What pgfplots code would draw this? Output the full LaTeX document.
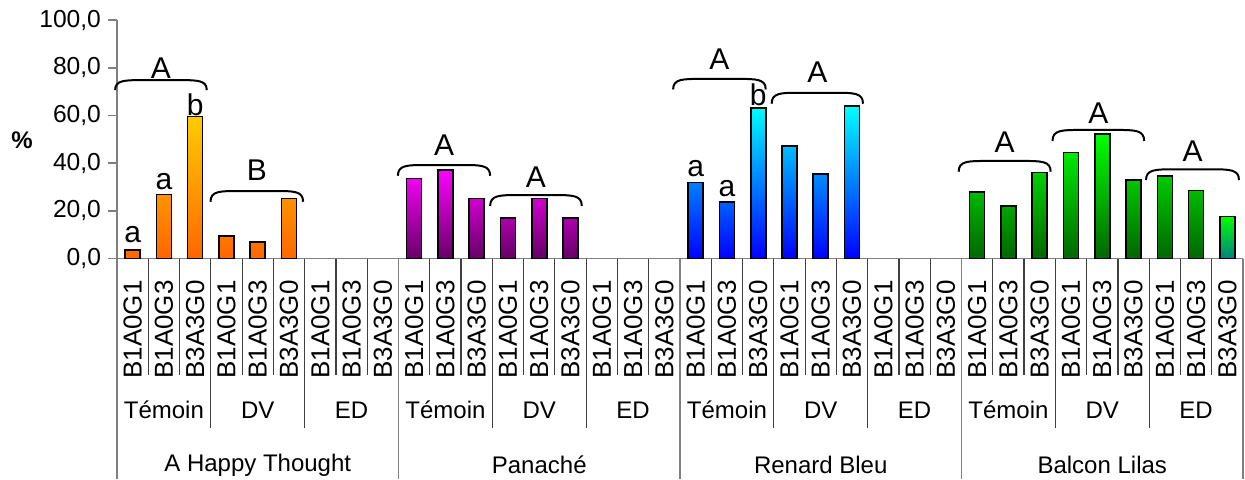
\documentclass[border=0pt]{standalone}
\usepackage{fontspec}
\setmainfont{Liberation Sans}
\usepackage{pgfplots}
\pgfplotsset{compat=1.18}

\definecolor{ahtT}{HTML}{FFCC00}
\definecolor{ahtB}{HTML}{FF6600}
\definecolor{panT}{HTML}{FF00FF}
\definecolor{panB}{HTML}{660066}
\definecolor{rbT}{HTML}{00FFFF}
\definecolor{rbB}{HTML}{0000FF}
\definecolor{blT}{HTML}{00FF00}
\definecolor{blB}{HTML}{006600}
\definecolor{blL}{HTML}{008080}
\definecolor{axgray}{HTML}{808080}

% bracket over a group: xl, xr, y of the ends, y of the top, letter, y of the letter
\newcommand{\brk}[6]{%
  \draw[line width=1pt] (axis cs:#1,#3) .. controls (axis cs:#1,#4) and (axis cs:{#1+0.3},#4) .. (axis cs:{#1+0.9},#4)
    -- (axis cs:{#2-0.9},#4) .. controls (axis cs:{#2-0.3},#4) and (axis cs:#2,#4) .. (axis cs:#2,#3);
  \node[font=\fontsize{15}{18}\selectfont, inner sep=0pt] at (axis cs:{(#1+#2)/2},#6) {#5};}
\newcommand{\lt}[3]{\node[font=\fontsize{15}{18}\selectfont, inner sep=0pt] at (axis cs:#1,#2) {#3};}

\begin{document}
\begin{tikzpicture}
\begin{axis}[
  scale only axis,
  width=563pt, height=119.25pt,
  xmin=-0.5, xmax=35.5,
  ymin=0, ymax=100,
  clip=false,
  axis lines*=left,
  axis line style={axgray, line width=0.8pt},
  xtick=\empty,
  ytick={0,20,...,100},
  tick align=outside,
  major tick length=4.5pt,
  ytick style={axgray, line width=0.8pt},
  yticklabel style={font=\fontsize{12.3}{14}\selectfont},
  /pgf/number format/.cd, fixed, fixed zerofill, precision=1, use comma, assume math mode=true,
]
\coordinate (O) at (axis cs:-0.5,0);

% A Happy Thought
\addplot[ybar, bar width=7.5pt, draw=black, line width=0.8pt, top color=ahtT, bottom color=ahtB]
  coordinates {(0,3.6) (1,26.9) (2,59.6) (3,9.4) (4,6.8) (5,25.2)};
% Panache
\addplot[ybar, bar width=7.5pt, draw=black, line width=0.8pt, top color=panT, bottom color=panB]
  coordinates {(9,33.6) (10,37.1) (11,25.2) (12,16.9) (13,25.2) (14,16.9)};
% Renard Bleu
\addplot[ybar, bar width=7.5pt, draw=black, line width=0.8pt, top color=rbT, bottom color=rbB]
  coordinates {(18,31.9) (19,23.6) (20,63.2) (21,47.2) (22,35.4) (23,63.9)};
% Balcon Lilas
\addplot[ybar, bar width=7.5pt, draw=black, line width=0.8pt, top color=blT, bottom color=blB]
  coordinates {(27,27.8) (28,22.0) (29,36.1) (30,44.5) (31,52.2) (32,32.8) (33,34.6) (34,28.6)};
\addplot[ybar, bar width=7.5pt, draw=black, line width=0.8pt, top color=blT, bottom color=blL]
  coordinates {(35,17.7)};

% letters and brackets
\lt{0}{10.1}{a} \lt{1}{32.2}{a} \lt{2}{64.4}{b}
\lt{18}{37.8}{a} \lt{19}{29.4}{a} \lt{20}{68.6}{b}
\brk{-0.56}{2.37}{70.6}{74.8}{A}{79.9}
\brk{2.49}{5.45}{23.8}{28.3}{B}{37.1}
\brk{8.48}{11.43}{34.7}{39.2}{A}{47.6}
\brk{11.43}{14.36}{22.0}{26.6}{A}{34.3}
\brk{17.28}{20.24}{70.9}{75.3}{A}{83.5}
\brk{20.43}{23.35}{64.9}{69.5}{A}{78.3}
\brk{26.41}{29.35}{36.4}{40.9}{A}{48.6}
\brk{29.41}{32.34}{49.3}{53.9}{A}{60.9}
\brk{32.40}{35.37}{32.9}{37.4}{A}{45.2}

% y label
\node[font=\bfseries\fontsize{12}{14}\selectfont] at ([xshift=-47.5pt]axis cs:-0.5,49.7) {\%};

% category separators
\pgfplotsinvokeforeach{0,...,36}{\draw[black!75, line width=0.6pt] (axis cs:{#1-0.5},0) -- (axis cs:{#1-0.5},-48.8);}
\pgfplotsinvokeforeach{0,3,...,36}{\draw[black!75, line width=0.6pt] (axis cs:{#1-0.5},0) -- (axis cs:{#1-0.5},-71.1);}
\pgfplotsinvokeforeach{0,9,...,36}{\draw[axgray, line width=0.8pt] (axis cs:{#1-0.5},0) -- (axis cs:{#1-0.5},-92.5);}

% genotype labels
\pgfplotsinvokeforeach{0,3,...,33}{\node[rotate=90, anchor=east, inner sep=0pt, font=\fontsize{13}{15}\selectfont] at (axis cs:#1,-9.0) {B1A0G1};}
\pgfplotsinvokeforeach{1,4,...,34}{\node[rotate=90, anchor=east, inner sep=0pt, font=\fontsize{13}{15}\selectfont] at (axis cs:#1,-9.0) {B1A0G3};}
\pgfplotsinvokeforeach{2,5,...,35}{\node[rotate=90, anchor=east, inner sep=0pt, font=\fontsize{13}{15}\selectfont] at (axis cs:#1,-9.0) {B3A3G0};}

% treatment labels
\pgfplotsinvokeforeach{1,10,19,28}{\node[font=\fontsize{12}{14}\selectfont] at (axis cs:#1,-63.5) {Témoin};}
\pgfplotsinvokeforeach{4,13,22,31}{\node[font=\fontsize{12}{14}\selectfont] at (axis cs:#1,-63.5) {DV};}
\pgfplotsinvokeforeach{7,16,25,34}{\node[font=\fontsize{12}{14}\selectfont] at (axis cs:#1,-63.5) {ED};}

% variety labels
\node[font=\fontsize{12}{14}\selectfont] at (axis cs:4,-86.6) {A Happy Thought};
\node[font=\fontsize{12}{14}\selectfont] at (axis cs:13,-86.6) {Panaché};
\node[font=\fontsize{12}{14}\selectfont] at (axis cs:22,-86.6) {Renard Bleu};
\node[font=\fontsize{12}{14}\selectfont] at (axis cs:31,-86.6) {Balcon Lilas};
\end{axis}
\pgfresetboundingbox
\path (O) ++(-58.5pt,-110.25pt) rectangle ++(622.5pt,239.5pt);
\end{tikzpicture}
\end{document}
